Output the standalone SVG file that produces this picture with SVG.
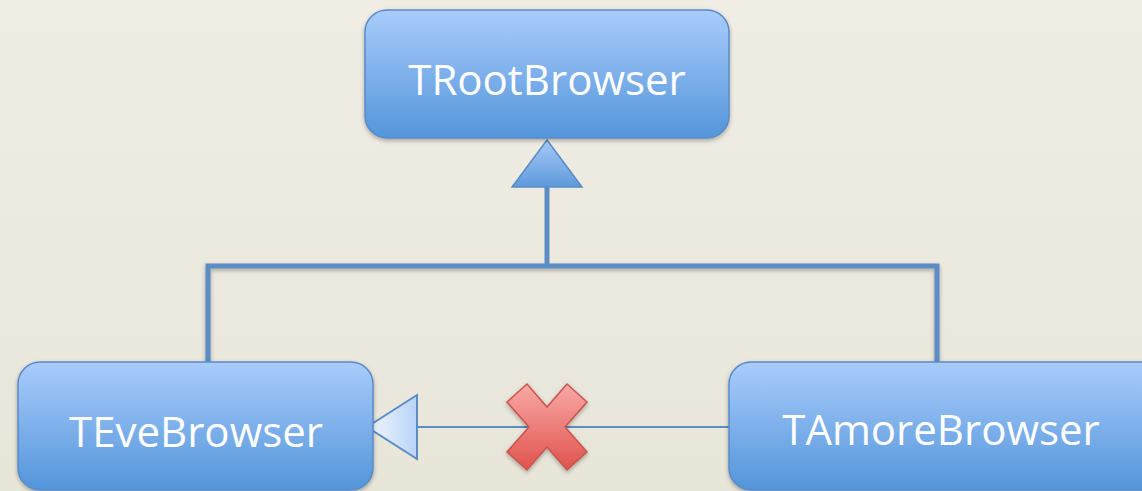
<svg xmlns="http://www.w3.org/2000/svg" width="1142" height="491" viewBox="0 0 1142 491">
<style>
.box{fill:url(#gBox);stroke:#5A8BC8;stroke-width:1.5;filter:url(#sh)}
.lbl{font-family:"Open Sans","Liberation Sans",sans-serif;font-size:42px;fill:#ffffff;text-anchor:middle}
.conn{stroke:#5B8CC4;fill:none}
</style>
<defs>
<linearGradient id="bg" x1="0" y1="0" x2="0" y2="1"><stop offset="0" stop-color="#F0EDE5"/><stop offset="1" stop-color="#E8E5D9"/></linearGradient>
<linearGradient id="gBox" x1="0" y1="0" x2="0" y2="1"><stop offset="0" stop-color="#A9CCFC"/><stop offset="1" stop-color="#5395DA"/></linearGradient>
<linearGradient id="gTri" x1="0" y1="0" x2="0" y2="1"><stop offset="0" stop-color="#A6C9F8"/><stop offset="1" stop-color="#5E9ADB"/></linearGradient>
<linearGradient id="gHollow" x1="0" y1="0" x2="1" y2="0"><stop offset="0" stop-color="#F4F8FE"/><stop offset="1" stop-color="#B8D3F8"/></linearGradient>
<linearGradient id="gX" x1="0" y1="0" x2="0" y2="1"><stop offset="0" stop-color="#F9A9A6"/><stop offset="1" stop-color="#E0534D"/></linearGradient>
<filter id="sh" x="-10%" y="-10%" width="120%" height="130%"><feDropShadow dx="0" dy="2" stdDeviation="2" flood-color="#000" flood-opacity="0.3"/></filter>
</defs>
<rect width="1142" height="491" fill="url(#bg)"/>
<g id="connectors">
<polyline class="conn" stroke-width="5" points="208,362 208,266 937,266 937,362" filter="url(#sh)"/>
<line class="conn" stroke-width="5" x1="547" y1="266" x2="547" y2="186"/>
<polygon points="547,140 582,187 512,187" fill="url(#gTri)" stroke="#5B8CC4" stroke-width="1.5"/>
<line class="conn" stroke-width="2" x1="417" y1="427" x2="729" y2="427"/>
<polygon points="367,427 417,395 417,459" fill="url(#gHollow)" stroke="#5B8CC4" stroke-width="2"/>
<polygon points="507,402 527,384 547,407 567,384 587,402 565,427 587,452 567,470 547,447 527,470 507,452 529,427" fill="url(#gX)" stroke="#C9534F" stroke-width="1.5" filter="url(#sh)"/>
</g>
<g id="node-troot">
<rect class="box" x="365" y="10" width="364" height="128" rx="22"/>
<text class="lbl" x="547" y="95">TRootBrowser</text>
</g>
<g id="node-teve">
<rect class="box" x="18" y="362" width="355" height="128" rx="22"/>
<text class="lbl" x="196" y="447">TEveBrowser</text>
</g>
<g id="node-tamore">
<rect class="box" x="729" y="362" width="440" height="128" rx="22"/>
<text class="lbl" x="941" y="445">TAmoreBrowser</text>
</g>
</svg>
